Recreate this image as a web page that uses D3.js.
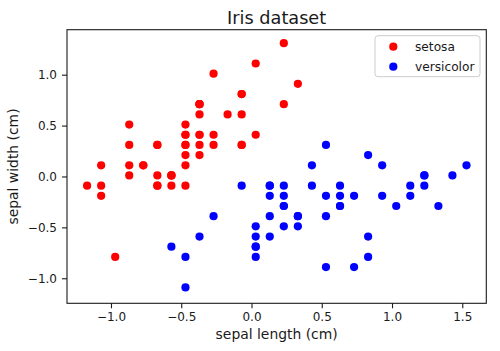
<!DOCTYPE html>
<html lang="en">
<head>
    <meta charset="UTF-8">
    <title>Iris dataset</title>
    <script src="https://cdn.jsdelivr.net/npm/d3@7"></script>
    <style>
        body { margin: 0; background: #fff; }
        text { font-family: "DejaVu Sans", sans-serif; fill: #1a1a1a; }
    </style>
</head>
<body>
<script>
    // sepal length / width, mean-centred (cm)
    const setosaX = [-0.37,-0.57,-0.77,-0.87,-0.47,-0.07,-0.87,-0.47,-1.07,-0.57,-0.07,-0.67,-0.67,-1.17,0.33,0.23,-0.07,-0.37,0.23,-0.37,
        -0.07,-0.37,-0.87,-0.37,-0.67,-0.47,-0.47,-0.27,-0.27,-0.77,-0.67,-0.07,-0.27,0.03,-0.57,-0.47,0.03,-0.57,-1.07,-0.37,
        -0.47,-0.97,-1.07,-0.47,-0.37,-0.67,-0.37,-0.87,-0.17,-0.47];
    const setosaY = [0.41,-0.09,0.11,0.01,0.51,0.81,0.31,0.31,-0.19,0.01,0.61,0.31,-0.09,-0.09,0.91,1.31,0.81,0.41,0.71,0.71,
        0.31,0.61,0.51,0.21,0.31,-0.09,0.31,0.41,0.31,0.11,0.01,0.31,1.01,1.11,0.01,0.11,0.41,0.01,-0.09,0.31,
        0.41,-0.79,0.11,0.41,0.71,-0.09,0.71,0.11,0.61,0.21];
    const versicolorX = [1.53,0.93,1.43,0.03,1.03,0.23,0.83,-0.57,1.13,-0.27,-0.47,0.43,0.53,0.63,0.13,1.23,0.13,0.33,0.73,0.13,
        0.43,0.63,0.83,0.63,0.93,1.13,1.33,1.23,0.53,0.23,0.03,0.03,0.33,0.53,-0.07,0.53,1.23,0.83,0.13,0.03,
        0.03,0.63,0.33,-0.47,0.13,0.23,0.23,0.73,-0.37,0.23];
    const versicolorY = [0.11,0.11,0.01,-0.79,-0.29,-0.29,0.21,-0.69,-0.19,-0.39,-1.09,-0.09,-0.89,-0.19,-0.19,0.01,-0.09,-0.39,-0.89,-0.59,
        0.11,-0.29,-0.59,-0.29,-0.19,-0.09,-0.29,-0.09,-0.19,-0.49,-0.69,-0.69,-0.39,-0.39,-0.09,0.31,0.01,-0.79,-0.09,-0.59,
        -0.49,-0.09,-0.49,-0.79,-0.39,-0.09,-0.19,-0.19,-0.59,-0.29];

    const xTicks = [-1.0, -0.5, 0.0, 0.5, 1.0, 1.5];
    const yTicks = [-1.0, -0.5, 0.0, 0.5, 1.0];
    const xLimits = [-1.313, 1.671];
    const yLimits = [-1.246, 1.442];

    const groups = [
        {name: "setosa", color: "#ff0000", xs: setosaX, ys: setosaY},
        {name: "versicolor", color: "#0000ff", xs: versicolorX, ys: versicolorY}
    ];

    const dim = {width: 500, height: 351};
    const box = {left: 67, top: 29.7, right: 486.3, bottom: 303.3};

    const svg = d3.select("body").append("svg")
        .attr("width", dim.width)
        .attr("height", dim.height);

    const x = d3.scaleLinear().domain(xLimits).range([box.left, box.right]);
    const y = d3.scaleLinear().domain(yLimits).range([box.bottom, box.top]);
    const fmt = d3.format(".1f");

    // points
    groups.forEach(g => {
        svg.append("g").selectAll("circle")
            .data(d3.zip(g.xs, g.ys))
            .join("circle")
            .attr("cx", d => x(d[0]))
            .attr("cy", d => y(d[1]))
            .attr("r", 4.1)
            .style("fill", g.color);
    });

    // axes
    const xAxis = svg.append("g")
        .attr("transform", `translate(0,${box.bottom})`)
        .call(d3.axisBottom(x).tickValues(xTicks).tickFormat(fmt).tickSize(5).tickPadding(4));
    const yAxis = svg.append("g")
        .attr("transform", `translate(${box.left},0)`)
        .call(d3.axisLeft(y).tickValues(yTicks).tickFormat(fmt).tickSize(5).tickPadding(5));
    [xAxis, yAxis].forEach(a => {
        a.select(".domain").remove();
        a.selectAll("line").attr("stroke", "#1a1a1a").attr("stroke-width", 1.1);
        a.selectAll("text").style("font-size", "12px").attr("fill", "#1a1a1a");
    });

    svg.append("rect")
        .attr("x", box.left).attr("y", box.top)
        .attr("width", box.right - box.left).attr("height", box.bottom - box.top)
        .attr("fill", "none").attr("stroke", "#1a1a1a").attr("stroke-width", 1.1);

    // title and labels
    svg.append("text")
        .attr("x", (box.left + box.right) / 2).attr("y", 24)
        .attr("text-anchor", "middle")
        .style("font-size", "17.7px")
        .text("Iris dataset");
    svg.append("text")
        .attr("x", (box.left + box.right) / 2).attr("y", 339)
        .attr("text-anchor", "middle")
        .style("font-size", "13.9px")
        .text("sepal length (cm)");
    svg.append("text")
        .attr("transform", `translate(18,${(box.top + box.bottom) / 2}) rotate(-90)`)
        .attr("text-anchor", "middle")
        .style("font-size", "13.9px")
        .text("sepal width (cm)");

    // legend
    const legend = svg.append("g").attr("transform", "translate(375,35.7)");
    legend.append("rect")
        .attr("width", 105).attr("height", 41).attr("rx", 3)
        .attr("fill", "#fff").attr("fill-opacity", 0.8)
        .attr("stroke", "#cccccc").attr("stroke-width", 1);
    const item = legend.selectAll("g.item")
        .data(groups)
        .join("g")
        .attr("class", "item")
        .attr("transform", (d, i) => `translate(0,${11 + i * 20})`);
    item.append("circle").attr("cx", 18.3).attr("r", 4.1).style("fill", d => d.color);
    item.append("text")
        .attr("x", 40).attr("dy", "0.35em")
        .style("font-size", "12.2px")
        .text(d => d.name);
</script>
</body>
</html>
